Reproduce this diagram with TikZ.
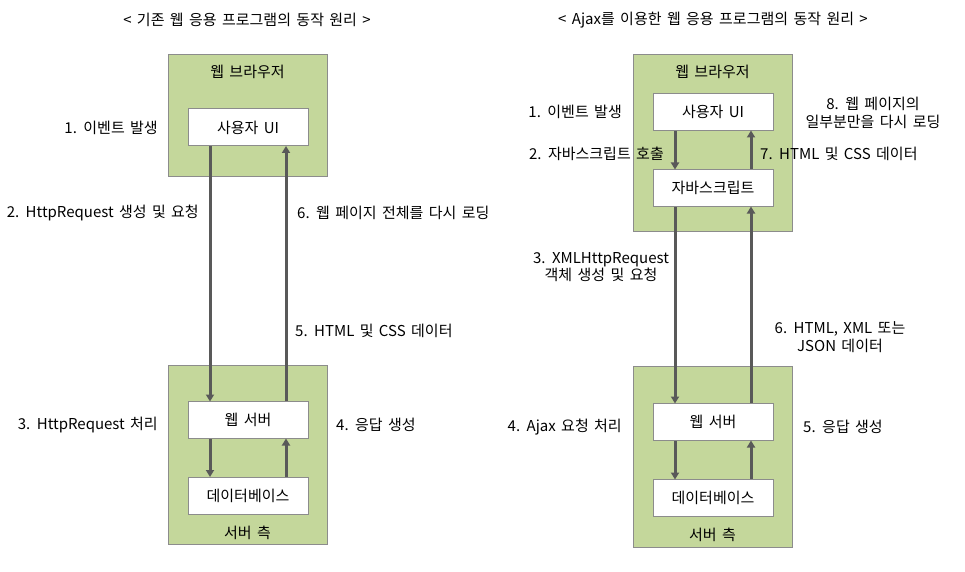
\documentclass[tikz,border=0pt]{standalone}
\usepackage{fontspec}
\setmainfont[WordSpace=1.6]{Noto Sans CJK KR}
\usetikzlibrary{arrows.meta}
\definecolor{boxgreen}{HTML}{C4D79B}
\definecolor{linegray}{HTML}{595959}
\definecolor{edgegray}{HTML}{8C8C8C}
\tikzset{
    zone/.style={draw=edgegray,fill=boxgreen,line width=1pt,inner sep=0pt,minimum width=159pt},
    part/.style={draw=edgegray,fill=white,line width=1pt,inner sep=0pt,minimum width=120pt,minimum height=37pt,font=\fontsize{15}{18}\selectfont},
    flow/.style={draw=linegray,line width=3pt,-{Triangle[length=7pt,width=8pt]},shorten >=-0.5pt},
    note/.style={inner sep=0pt,font=\fontsize{15}{17.5}\selectfont,align=center}
}

\begin{document}
\begin{tikzpicture}[x=1pt,y=-1pt]
    \useasboundingbox (0,0) rectangle (965,572);
    % titles
    \node[note] (tl) at (247,20) {<\ 기존 웹 응용 프로그램의 동작 원리\ >};
    \node[note] (tr) at (713,20) {<\ Ajax를 이용한 웹 응용 프로그램의 동작 원리\ >};

    % classic model
    \node[zone,minimum height=121pt] (bl) at (247.5,115.5) {};
    \node[zone,minimum height=179pt] (sl) at (247.5,454.5) {};
    \node[note] (blt) at (247.5,72) {웹 브라우저};
    \node[note] (slt) at (247.5,533) {서버 측};
    \node[part] (uil) at (248,127.5) {사용자 UI};
    \node[part] (wsl) at (248,420) {웹 서버};
    \node[part] (dbl) at (248,495.5) {데이터베이스};
    \draw[flow] ([xshift=-38pt]uil.south) -- ([xshift=-38pt]wsl.north);
    \draw[flow] ([xshift=38pt]wsl.north) -- ([xshift=38pt]uil.south);
    \draw[flow] ([xshift=-38pt]wsl.south) -- ([xshift=-38pt]dbl.north);
    \draw[flow] ([xshift=38pt]dbl.north) -- ([xshift=38pt]wsl.south);
    \node[note,anchor=east] (l1) at (158,128) {1. 이벤트 발생};
    \node[note,anchor=east] (l2) at (199,213) {2. HttpRequest 생성 및 요청};
    \node[note,anchor=east] (l3) at (158,425) {3. HttpRequest 처리};
    \node[note,anchor=west] (l4) at (336,425) {4. 응답 생성};
    \node[note,anchor=west] (l5) at (295,331) {5. HTML 및 CSS 데이터};
    \node[note,anchor=west] (l6) at (297,213) {6. 웹 페이지 전체를 다시 로딩};

    % ajax model
    \node[zone,minimum height=176pt] (br) at (712.5,143) {};
    \node[zone,minimum height=181pt] (sr) at (712.5,456.5) {};
    \node[note] (brt) at (712.5,72) {웹 브라우저};
    \node[note] (srt) at (712.5,535) {서버 측};
    \node[part] (uir) at (713,112) {사용자 UI};
    \node[part] (jsr) at (713,188) {자바스크립트};
    \node[part] (wsr) at (713,422) {웹 서버};
    \node[part] (dbr) at (713,498) {데이터베이스};
    \draw[flow] ([xshift=-38pt]uir.south) -- ([xshift=-38pt]jsr.north);
    \draw[flow] ([xshift=38pt]jsr.north) -- ([xshift=38pt]uir.south);
    \draw[flow] ([xshift=-38pt]jsr.south) -- ([xshift=-38pt]wsr.north);
    \draw[flow] ([xshift=38pt]wsr.north) -- ([xshift=38pt]jsr.south);
    \draw[flow] ([xshift=-38pt]wsr.south) -- ([xshift=-38pt]dbr.north);
    \draw[flow] ([xshift=38pt]dbr.north) -- ([xshift=38pt]wsr.south);
    \node[note,anchor=east] (r1) at (622,112) {1. 이벤트 발생};
    \node[note,anchor=east] (r2) at (664,154) {2. 자바스크립트 호출};
    \node[note] (r3) at (601,267) {3. XMLHttpRequest\\객체 생성 및 요청};
    \node[note,anchor=east] (r4) at (622,427) {4. Ajax 요청 처리};
    \node[note,anchor=west] (r5) at (803,427) {5. 응답 생성};
    \node[note] (r6) at (840,337) {6. HTML, XML 또는\\JSON 데이터};
    \node[note,anchor=west] (r7) at (760,154) {7. HTML 및 CSS 데이터};
    \node[note] (r8) at (873,113) {8. 웹 페이지의\\일부분만을 다시 로딩};
\end{tikzpicture}
\end{document}
